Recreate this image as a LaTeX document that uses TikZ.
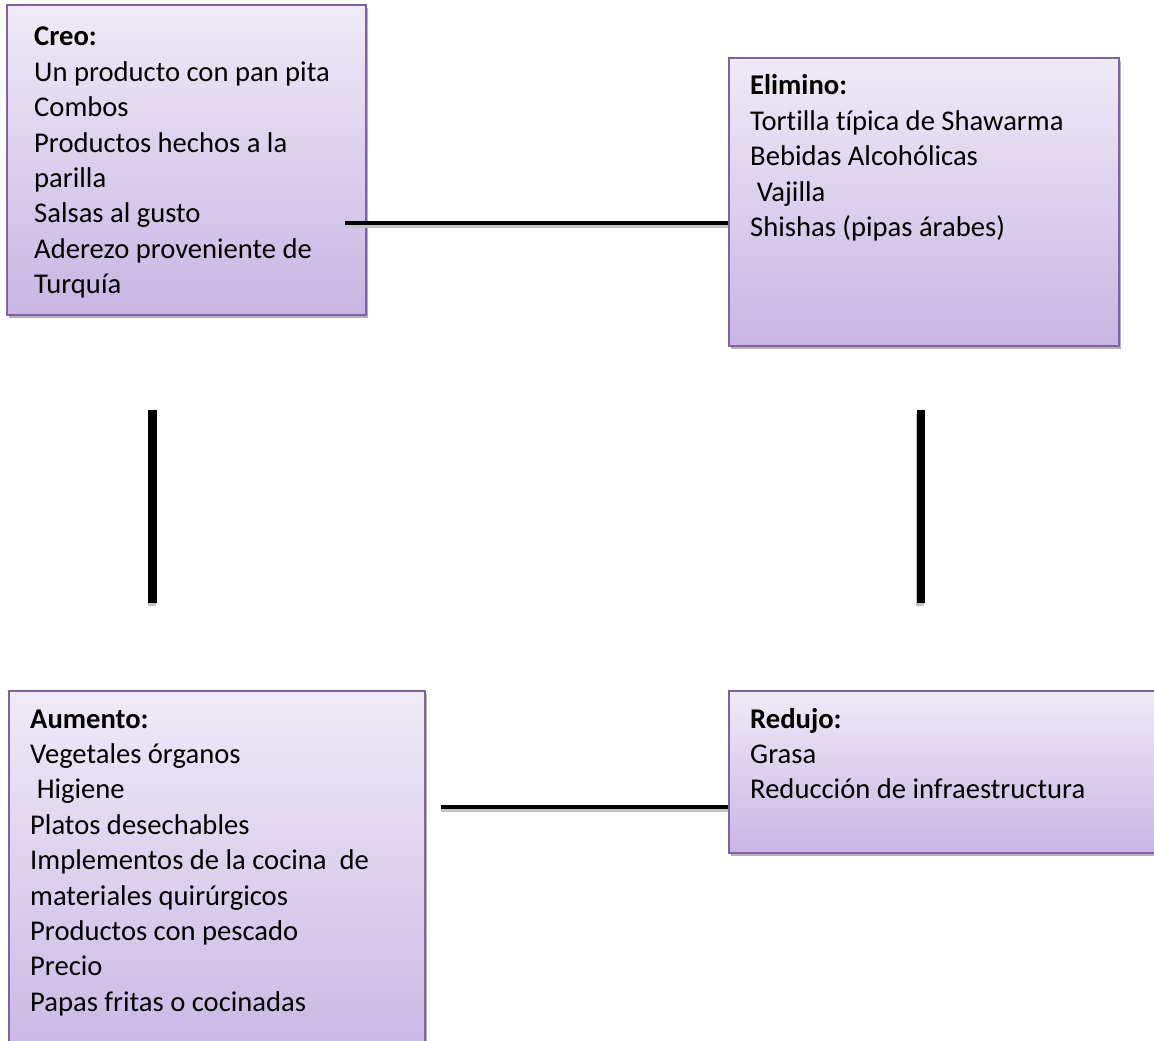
\documentclass[tikz,border=0pt]{standalone}
\usepackage{fontspec}
\setmainfont[Ligatures={NoCommon}]{Carlito}
\usetikzlibrary{shadows}
\definecolor{boxtop}{HTML}{EFEAF7}
\definecolor{boxbot}{HTML}{C8B6E3}
\definecolor{boxedge}{HTML}{7F63A1}
\definecolor{lineshadow}{HTML}{C4C4C4}
\newcommand\boxtext[1]{\parbox[t]{420pt}{\raggedright\fontsize{28.6}{35.4}\selectfont #1}}
\tikzset{
  quadbox/.style={draw=boxedge, line width=1.6pt, top color=boxtop, bottom color=boxbot,
    rectangle, anchor=north west, inner sep=0pt,
    drop shadow={shadow xshift=2.5pt, shadow yshift=-3.5pt, opacity=0.3, fill=black}},
  boxlabel/.style={anchor=base west, inner sep=0pt, text=black},
  hconn/.style={line width=4.8pt, black},
  vconn/.style={line width=8.4pt, black},
  connshadow/.style={line width=4.8pt, lineshadow},
}
\begin{document}
\begin{tikzpicture}[x=1pt, y=-1pt]
\useasboundingbox (0,0) rectangle (1154,1041);
\clip (0,0) rectangle (1154,1041);
\fill[white] (0,0) rectangle (1154,1041);

% boxes
\node[quadbox, minimum width=359pt, minimum height=310pt] (creo) at (6,4) {};
\node[quadbox, minimum width=390pt, minimum height=288pt] (elim) at (728,57) {};
\node[quadbox, minimum width=416pt, minimum height=380pt] (aum) at (8,690) {};
\node[quadbox, minimum width=440pt, minimum height=162pt] (red) at (728,690) {};

% texts
\node[boxlabel] (creoT) at (34,46) {\boxtext{\textbf{Creo:}\\Un producto con pan pita\\Combos\\Productos hechos a la\\parilla\\Salsas al gusto\\Aderezo proveniente de\\Turquía}};
\node[boxlabel] (elimT) at (750,95) {\boxtext{\textbf{Elimino:}\\Tortilla típica de Shawarma\\Bebidas Alcohólicas\\\hspace*{0.23em}Vajilla\\Shishas (pipas árabes)}};
\node[boxlabel] (aumT) at (30,728) {\boxtext{\textbf{Aumento:}\\Vegetales órganos\\\hspace*{0.23em}Higiene\\Platos desechables\\Implementos de la cocina~~de\\materiales quirúrgicos\\Productos con pescado\\Precio\\Papas fritas o cocinadas}};
\node[boxlabel] (redT) at (750,728) {\boxtext{\textbf{Redujo:}\\Grasa\\Reducción de infraestructura}};

% connector coordinates
\coordinate (a1) at (345,223);
\coordinate (b1) at (441,807);
\coordinate (l1) at (152.5,410);
\coordinate (l2) at (152.5,603);
\coordinate (r1) at (921,410);
\coordinate (r2) at (921,603);

% shadows of connectors
\draw[connshadow] ([yshift=-3pt]a1) -- ([yshift=-3pt]a1 -| elim.west);
\draw[connshadow] ([yshift=-3pt]b1) -- ([yshift=-3pt]b1 -| red.west);
\draw[lineshadow, line width=8.4pt] ([xshift=-0.8pt,yshift=-3pt]l1) -- ([xshift=-0.8pt,yshift=-3pt]l2);
\draw[lineshadow, line width=8.4pt] ([xshift=-0.8pt,yshift=-3pt]r1) -- ([xshift=-0.8pt,yshift=-3pt]r2);

% connectors
\draw[hconn] (a1) -- (a1 -| elim.west);
\draw[hconn] (b1) -- (b1 -| red.west);
\draw[vconn] (l1) -- (l2);
\draw[vconn] (r1) -- (r2);
\end{tikzpicture}
\end{document}
